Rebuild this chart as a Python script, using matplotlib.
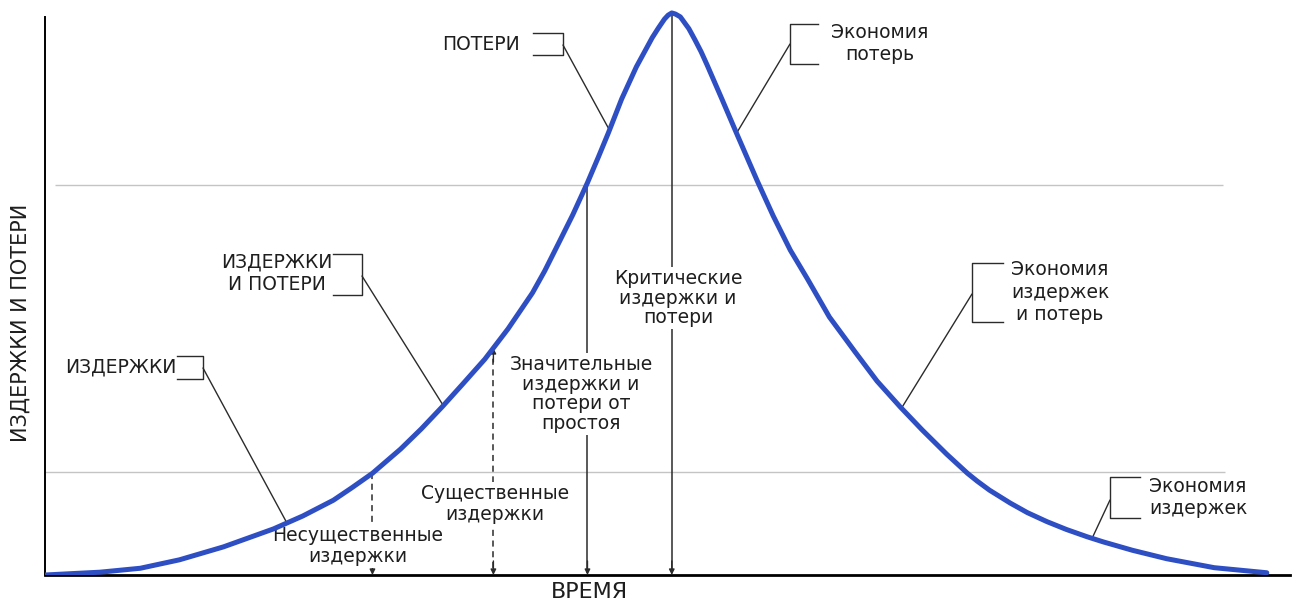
import numpy as np
import matplotlib
matplotlib.use('Agg')
import matplotlib.pyplot as plt
from matplotlib.transforms import Affine2D

plt.rcParams['font.family'] = ['DejaVu Sans']

# кривая издержек и потерь (время в усл. ед., издержки в % от пика)
time = [0, 4.5, 7.8, 11.0, 14.6, 18.7, 21.1, 23.6, 25.1, 26.8, 29.1, 30.8, 32.5,
        34.2, 36.0, 37.9, 39.9, 40.9, 42.1, 43.2, 44.4, 45.3, 46.1, 47.2, 48.4,
        49.1, 49.7, 50.2, 50.7, 51.0, 51.3, 51.6, 52.0, 52.3, 52.7, 53.2, 53.7,
        54.2, 55.4, 56.6, 58.3, 59.6, 61.0, 62.4, 64.2, 66.3, 68.1, 70.0, 71.8,
        73.8, 75.5, 76.3, 77.3, 79.0, 80.4, 82.0, 83.6, 85.3, 86.6, 89.0, 91.8,
        95.7, 100]
cost = [0, 0.5, 1.2, 2.7, 5.0, 8.2, 10.5, 13.3, 15.5, 18.1, 22.4, 26.0, 29.9,
        34.0, 38.4, 43.8, 50.2, 54.1, 59.3, 64.1, 69.8, 74.4, 78.6, 84.7, 90.4,
        93.2, 95.6, 97.3, 98.9, 99.6, 100, 99.8, 99.3, 98.4, 97.2, 95.2, 93.1,
        90.7, 84.7, 78.6, 70.1, 63.9, 57.8, 52.7, 45.9, 39.7, 34.5, 29.9, 25.8,
        21.5, 18.1, 16.7, 15.1, 12.8, 11.1, 9.5, 8.1, 6.8, 5.9, 4.4, 2.9,
        1.3, 0.4]

# пороги уровней издержек
levels = [18.3, 69.3]

# моменты времени для вертикальных отметок
t_minor = 26.8      # несущественные
t_essential = 36.7  # существенные
t_major = 44.4      # значительные
t_critical = 51.3   # критические

W, H = 1297, 607
fig = plt.figure(figsize=(W / 100, H / 100), dpi=100)
ax = fig.add_axes([45 / W, 32 / H, 1245 / W, 566 / H])
ax.set_xlim(0, 101.9)
ax.set_ylim(0, 100.7)
ax.set_xticks([])
ax.set_yticks([])
for s in ['top', 'right']:
    ax.spines[s].set_visible(False)
ax.spines['left'].set_linewidth(1.4)
ax.spines['left'].set_bounds(0, 99.3)
ax.spines['bottom'].set_linewidth(2.0)

# пиксельные координаты (от верхнего левого угла) для подписей
pix = Affine2D().scale(1, -1).translate(0, H)
lc = '#2b2b2b'
tc = '#1e1e1e'

ax.hlines(levels[1], 0.8, 96.4, color='#c4c4c4', lw=1.0, zorder=1)
ax.hlines(levels[0], 0.0, 96.6, color='#c4c4c4', lw=1.0, zorder=1)

ax.plot(time, cost, color='#2e4ec4', lw=3.6, solid_capstyle='round',
        solid_joinstyle='round', zorder=5)


def on_curve(t):
    return float(np.interp(t, time, cost))


def down_arrow(t, y0, dashed=False, up_head=False):
    ls = (0, (4, 3)) if dashed else '-'
    ax.plot([t, t], [y0, 0.6], color=lc, lw=1.1, ls=ls, zorder=3)
    ax.annotate('', xy=(t, 0), xytext=(t, 2.5),
                arrowprops=dict(arrowstyle='-|>', color=lc, lw=1.0,
                                mutation_scale=8, shrinkA=0, shrinkB=0), zorder=3)
    if up_head:
        ax.annotate('', xy=(t, y0), xytext=(t, y0 - 2.5),
                    arrowprops=dict(arrowstyle='-|>', color=lc, lw=1.0,
                                    mutation_scale=8, shrinkA=0, shrinkB=0), zorder=3)


down_arrow(t_minor, on_curve(t_minor), dashed=True)
down_arrow(t_essential, on_curve(t_essential), dashed=True, up_head=True)
down_arrow(t_major, on_curve(t_major))
down_arrow(t_critical, on_curve(t_critical))

fs = 13.5
box = dict(facecolor='white', edgecolor='none', pad=1.5)

ax.text(358, 546, 'Несущественные\nиздержки', transform=pix, ha='center', va='center',
        fontsize=fs, linespacing=1.1, color=tc, bbox=box, zorder=4)
ax.text(495, 504, 'Существенные\nиздержки', transform=pix, ha='center', va='center',
        fontsize=fs, linespacing=1.1, color=tc, bbox=box, zorder=4)
ax.text(581, 394, 'Значительные\nиздержки и\nпотери от\nпростоя', transform=pix,
        ha='center', va='center', fontsize=fs, linespacing=1.05, color=tc,
        bbox=box, zorder=4)
ax.text(678, 298, 'Критические\nиздержки и\nпотери', transform=pix, ha='center',
        va='center', fontsize=fs, linespacing=1.05, color=tc, bbox=box, zorder=4)


def bracket(x_open, x_edge, y0, y1):
    ax.plot([x_open, x_edge, x_edge, x_open], [y0, y0, y1, y1], color=lc, lw=1.0,
            transform=pix, zorder=3)


def leader(px, py, t):
    ax.annotate('', xy=(t, on_curve(t)), xycoords='data', xytext=(px, py), textcoords=pix,
                arrowprops=dict(arrowstyle='-', color=lc, lw=1.0, shrinkA=0, shrinkB=0),
                zorder=3)


# ПОТЕРИ
ax.text(520, 44, 'ПОТЕРИ', transform=pix, ha='right', va='center', fontsize=fs, color=tc)
bracket(533, 563, 33, 55)
leader(563, 45, 46.2)

# Экономия потерь
ax.text(880, 44, 'Экономия\nпотерь', transform=pix, ha='center', va='center',
        fontsize=fs, linespacing=1.2, color=tc)
bracket(818, 790, 24, 64)
leader(790, 44, 56.6)

# ИЗДЕРЖКИ И ПОТЕРИ
ax.text(277, 273, 'ИЗДЕРЖКИ\nИ ПОТЕРИ', transform=pix, ha='center', va='center',
        fontsize=fs, linespacing=1.25, color=tc)
bracket(333, 362, 254, 295)
leader(362, 276, 32.6)

# ИЗДЕРЖКИ
ax.text(121, 367, 'ИЗДЕРЖКИ', transform=pix, ha='center', va='center', fontsize=fs, color=tc)
bracket(177, 203, 356, 379)
leader(203, 368, 19.8)

# Экономия издержек и потерь
ax.text(1060, 292, 'Экономия\nиздержек\nи потерь', transform=pix, ha='center', va='center',
        fontsize=fs, linespacing=1.25, color=tc)
bracket(1003, 972, 263, 322)
leader(972, 294, 70.1)

# Экономия издержек
ax.text(1198, 498, 'Экономия\nиздержек', transform=pix, ha='center', va='center',
        fontsize=fs, linespacing=1.2, color=tc)
bracket(1140, 1110, 477, 518)
leader(1110, 500, 85.7)

# подписи осей
fig.text(21 / W, 1 - 323 / H, 'ИЗДЕРЖКИ И ПОТЕРИ', rotation=90, ha='center', va='center',
         fontsize=15, color=tc)
fig.text(589 / W, 1 - 592 / H, 'ВРЕМЯ', ha='center', va='center', fontsize=16, color=tc)

fig.savefig('out.png', dpi=100, facecolor='white')
